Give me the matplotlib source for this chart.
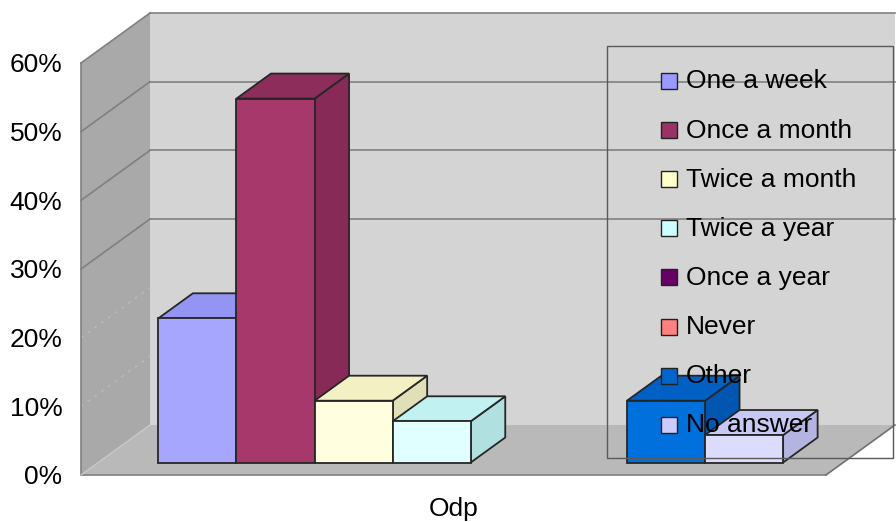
import matplotlib
matplotlib.use("Agg")
import matplotlib.pyplot as plt
from matplotlib.patches import Polygon, Rectangle
from matplotlib.lines import Line2D

# ---- data -------------------------------------------------------------
categories = ["One a week", "Once a month", "Twice a month", "Twice a year",
              "Once a year", "Never", "Other", "No answer"]
values = [21, 53, 9, 6, 0, 0, 9, 4]          # percent
y_ticks = [0, 10, 20, 30, 40, 50, 60]
y_tick_labels = ["0%", "10%", "20%", "30%", "40%", "50%", "60%"]
group_label = "Odp"

# ---- colours ----------------------------------------------------------
legend_colors = ["#9999ff", "#993366", "#ffffcc", "#ccffff",
                 "#660066", "#ff8080", "#0066cc", "#ccccff"]
front_colors = ["#a6a6ff", "#a6386c", "#ffffe0", "#e0ffff",
                "#700070", "#ff8c8c", "#0070dc", "#dcdcff"]
top_colors = ["#9494f2", "#8c2d5c", "#f3f1c4", "#c1f1f1",
              "#600060", "#f07878", "#0060c4", "#c8c8f4"]
side_colors = ["#8080d8", "#872a57", "#e0dfb8", "#b1e0e0",
               "#580058", "#e06c6c", "#0056b0", "#b4b4e0"]

BACK_WALL = "#d4d4d4"
SIDE_WALL = "#a9a9a9"
FLOOR = "#b9b9b9"
EDGE = "#808080"

FONT = "Liberation Sans"
plt.rcParams["font.family"] = [FONT, "DejaVu Sans"]

W, H = 896, 522
fig = plt.figure(figsize=(W / 100, H / 100), dpi=100)
fig.patch.set_facecolor("white")

# front plane of the plot box
ax = fig.add_axes([81 / W, 47 / H, 745 / W, 412 / H])
XPAD = 0.77
n = len(categories)
x_lo, x_hi = -XPAD, n + XPAD
y_top = y_ticks[-1]
ax.set_xlim(x_lo, x_hi)
ax.set_ylim(0, y_top)
ax.patch.set_visible(False)
for s in ax.spines.values():
    s.set_visible(False)

# oblique depth offset, expressed in data units (69 px right, 50 px up)
px_per_x = 745 / (x_hi - x_lo)
px_per_y = 412 / y_top
DX = 69 / px_per_x
DY = 50 / px_per_y


def P(x, y, d):
    return (x + d * DX, y + d * DY)


def poly(pts, fc, ec="none", lw=0, z=1):
    ax.add_patch(Polygon(pts, closed=True, facecolor=fc, edgecolor=ec,
                         linewidth=lw, joinstyle="miter", clip_on=False,
                         zorder=z))


def line(p, q, color=EDGE, lw=1.2, z=2, ls="-"):
    ax.add_line(Line2D([p[0], q[0]], [p[1], q[1]], color=color, lw=lw,
                       ls=ls, clip_on=False, zorder=z))


# walls and floor
poly([P(x_lo, 0, 1), P(x_hi, 0, 1), P(x_hi, y_top, 1), P(x_lo, y_top, 1)],
     BACK_WALL, z=1)
poly([P(x_lo, 0, 0), P(x_lo, 0, 1), P(x_lo, y_top, 1), P(x_lo, y_top, 0)],
     SIDE_WALL, z=1)
poly([P(x_lo, 0, 0), P(x_hi, 0, 0), P(x_hi, 0, 1), P(x_lo, 0, 1)],
     FLOOR, z=1)

# gridlines
for v in y_ticks[1:-1]:
    if v >= 30:
        line(P(x_lo, v, 0), P(x_lo, v, 1), z=2)
        line(P(x_lo, v, 1), P(x_hi, v, 1), z=2)
    else:
        line(P(x_lo, v, 0), P(x_lo, v, 1), color="#bcbcbc", lw=1.0,
             ls=(0, (2, 4)), z=2)

# box outline
line(P(x_lo, 0, 0), P(x_lo, y_top, 0), z=2)
line(P(x_lo, y_top, 0), P(x_lo, y_top, 1), z=2)
line(P(x_lo, y_top, 1), P(x_hi, y_top, 1), z=2)
line(P(x_lo, 0, 0), P(x_hi, 0, 0), z=2)
line(P(x_hi, 0, 0), P(x_hi, 0, 1), color="#707070", lw=1.2, z=2)
line(P(x_lo, 0, 0), P(x_lo, 0, 1), color="#c8c8c8", lw=1.0, z=2)

# 3-D bars, drawn left to right so later faces cover earlier sides
D0, D1 = 0.25, 0.75
BAR_EDGE = "#262626"
for i, v in enumerate(values):
    if v <= 0:
        continue
    x0, x1 = i, i + 1
    z = 10 + i
    poly([P(x1, 0, D0), P(x1, 0, D1), P(x1, v, D1), P(x1, v, D0)],
         side_colors[i], BAR_EDGE, 1.3, z)
    poly([P(x0, v, D0), P(x1, v, D0), P(x1, v, D1), P(x0, v, D1)],
         top_colors[i], BAR_EDGE, 1.3, z)
    poly([P(x0, 0, D0), P(x1, 0, D0), P(x1, v, D0), P(x0, v, D0)],
         front_colors[i], BAR_EDGE, 1.3, z)

# axis labels
ax.set_yticks(y_ticks, y_tick_labels)
ax.set_xticks([n / 2], [group_label])
ax.tick_params(axis="y", length=0, pad=13.5, labelsize=19)
ax.tick_params(axis="x", length=0, pad=16.0, labelsize=19)

# legend (transparent box, drawn on top)
ft = fig.transFigure
ax.add_patch(Rectangle((607 / W, 1 - 458 / H), 286 / W, 412 / H,
                       transform=ft, facecolor="none", edgecolor="#5a5a5a",
                       linewidth=1.0, clip_on=False, zorder=30))
for i, (lab, col) in enumerate(zip(categories, legend_colors)):
    yc = 81 + 49.1 * i
    ax.add_patch(Rectangle((661 / W, 1 - (yc + 8) / H), 16 / W, 16 / H,
                           transform=ft, facecolor=col, edgecolor="#222222",
                           linewidth=1.0, clip_on=False, zorder=31))
    ax.text(686 / W, 1 - (yc + 7.5) / H, lab, transform=ft, fontsize=19,
            ha="left", va="baseline", color="black", zorder=32,
            clip_on=False)

fig.savefig("out.png", dpi=100)
